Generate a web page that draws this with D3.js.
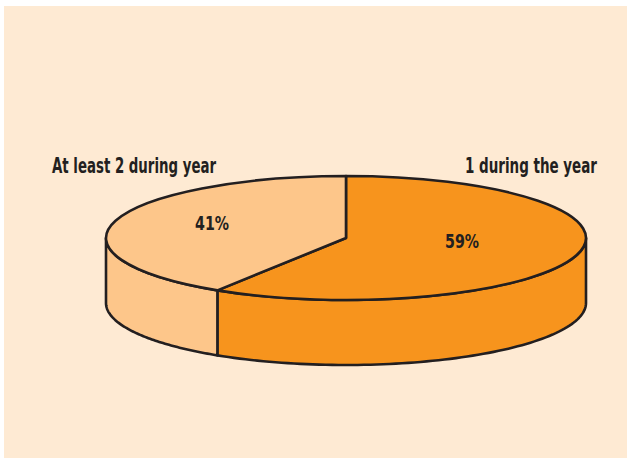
<!DOCTYPE html>
<html>
<head>
<meta charset="utf-8">
<script src="https://cdn.jsdelivr.net/npm/d3@7"></script>
<style>
	body { margin: 0; background: #ffffff; }
	text { font-family: "Liberation Sans Narrow", "DejaVu Sans Condensed", "Liberation Sans", sans-serif; font-weight: bold; fill: #231f20; }
</style>
</head>
<body>
<div id="wrapper"></div>
<script>
const categories = ["1 during the year", "At least 2 during year"];
const values = [59, 41];
const valueLabels = ["59%", "41%"];
const colors = ["#f7941d", "#fdc68a"];

function drawPie(){
	const dimensions = {
		width: 627,
		height: 458,
		cx: 346,
		cy: 238,
		rx: 240,
		ry: 62,
		depth: 65
	};

	const wrapper = d3.select("#wrapper").append("svg")
		.attr("width", dimensions.width)
		.attr("height", dimensions.height);

	wrapper.append("rect")
		.attr("x", 4)
		.attr("y", 6)
		.attr("width", dimensions.width - 4)
		.attr("height", dimensions.height - 6)
		.attr("fill", "#feead3");

	const dataset = categories.map((c, i) => ({ category: c, value: values[i], label: valueLabels[i], color: colors[i] }));

	const pieGen = d3.pie()
		.sort(null)
		.value(d => d.value);
	const slices = pieGen(dataset);

	// ellipse position for an angle measured clockwise from 12 o'clock
	const px = a => dimensions.cx + dimensions.rx * Math.sin(a);
	const py = a => dimensions.cy - dimensions.ry * Math.cos(a);

	const bounds = wrapper.append("g");

	// side walls, only the front half (90deg..270deg) is visible
	const lineGen = d3.line();
	const sidePath = d => {
		const a0 = Math.max(d.startAngle, Math.PI / 2);
		const a1 = Math.min(d.endAngle, Math.PI * 3 / 2);
		if (a1 <= a0) return null;
		const steps = 80;
		const top = d3.range(steps + 1).map(i => a0 + (a1 - a0) * i / steps);
		const pts = top.map(a => [px(a), py(a)])
			.concat(top.slice().reverse().map(a => [px(a), py(a) + dimensions.depth]));
		return lineGen(pts) + "Z";
	};

	bounds.append("g").selectAll("path")
		.data(slices.filter(d => sidePath(d)))
		.join("path")
		.attr("d", sidePath)
		.attr("fill", d => d.data.color)
		.attr("stroke", "#231f20")
		.attr("stroke-width", 2.6)
		.attr("stroke-linejoin", "round");

	// top face: d3.arc squashed into an ellipse
	const arcGen = d3.arc()
		.innerRadius(0)
		.outerRadius(dimensions.rx);

	bounds.append("g")
		.attr("transform", `translate(${dimensions.cx},${dimensions.cy}) scale(1,${dimensions.ry / dimensions.rx})`)
		.selectAll("path")
		.data(slices)
		.join("path")
		.attr("d", arcGen)
		.attr("fill", d => d.data.color)
		.attr("stroke", "#231f20")
		.attr("stroke-width", 2.6)
		.attr("stroke-linejoin", "round")
		.attr("vector-effect", "non-scaling-stroke");

	// percent labels on the top face
	const labelPos = [[462, 248], [212, 230]];
	bounds.append("g").selectAll("text")
		.data(slices)
		.join("text")
		.attr("x", (d, i) => labelPos[i][0])
		.attr("y", (d, i) => labelPos[i][1])
		.attr("text-anchor", "middle")
		.attr("font-size", "19px")
		.attr("textLength", 34)
		.attr("lengthAdjust", "spacingAndGlyphs")
		.text(d => d.data.label);

	// category labels
	wrapper.append("text")
		.attr("x", 465)
		.attr("y", 173)
		.attr("font-size", "22px")
		.attr("textLength", 132)
		.attr("lengthAdjust", "spacingAndGlyphs")
		.text(categories[0]);

	wrapper.append("text")
		.attr("x", 52)
		.attr("y", 173)
		.attr("font-size", "22px")
		.attr("textLength", 164)
		.attr("lengthAdjust", "spacingAndGlyphs")
		.text(categories[1]);
}

drawPie();
</script>
</body>
</html>
